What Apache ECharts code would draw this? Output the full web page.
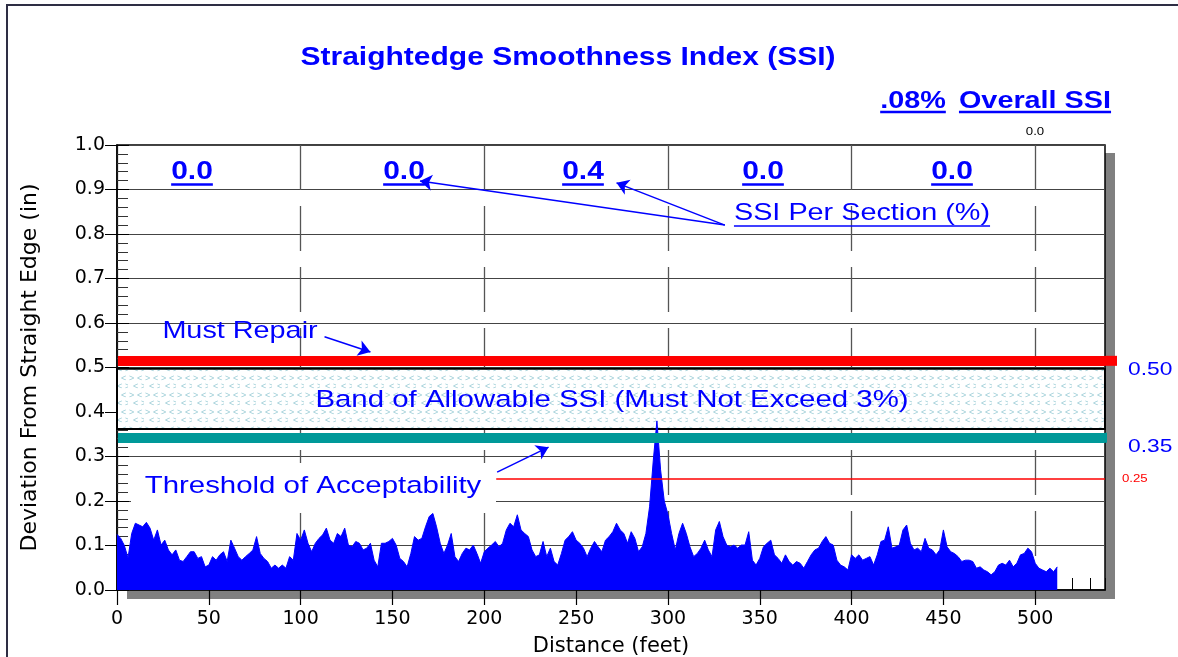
<!DOCTYPE html>
<html>
<head>
<meta charset="utf-8">
<script src="https://cdn.jsdelivr.net/npm/echarts@6/dist/echarts.min.js"></script>
<style>
html, body { margin: 0; padding: 0; background: #fff; }
#chart { width: 1178px; height: 657px; }
</style>
</head>
<body>
<div id="chart"></div>
<script>
// profile sampled every 2 ft, deviation in inches
var profileStepFt = 2;
var profileIn = [
  0.125,0.116,0.100,0.072,0.127,0.150,0.146,0.142,0.152,0.139,
  0.112,0.135,0.101,0.112,0.090,0.079,0.090,0.067,0.064,0.075,
  0.086,0.086,0.071,0.075,0.052,0.056,0.075,0.067,0.079,0.086,
  0.064,0.112,0.094,0.075,0.067,0.075,0.082,0.090,0.120,0.082,
  0.071,0.064,0.049,0.056,0.049,0.056,0.049,0.075,0.067,0.127,
  0.112,0.135,0.105,0.086,0.105,0.116,0.124,0.139,0.112,0.105,
  0.127,0.120,0.139,0.101,0.097,0.109,0.105,0.090,0.094,0.105,
  0.067,0.052,0.105,0.105,0.109,0.116,0.101,0.071,0.064,0.052,
  0.082,0.120,0.112,0.116,0.142,0.165,0.172,0.142,0.105,0.082,
  0.101,0.127,0.075,0.064,0.082,0.094,0.090,0.101,0.082,0.060,
  0.086,0.094,0.101,0.109,0.097,0.105,0.135,0.150,0.142,0.169,
  0.135,0.127,0.120,0.090,0.075,0.079,0.109,0.075,0.094,0.064,
  0.056,0.082,0.112,0.120,0.131,0.112,0.105,0.094,0.075,0.094,
  0.109,0.097,0.086,0.112,0.120,0.131,0.150,0.135,0.127,0.105,
  0.131,0.116,0.086,0.097,0.127,0.187,0.290,0.380,0.270,0.200,
  0.170,0.127,0.090,0.127,0.150,0.127,0.097,0.075,0.082,0.094,
  0.112,0.090,0.075,0.135,0.154,0.120,0.101,0.097,0.101,0.094,
  0.101,0.101,0.131,0.067,0.056,0.071,0.097,0.105,0.112,0.079,
  0.071,0.060,0.079,0.064,0.056,0.064,0.060,0.049,0.064,0.079,
  0.090,0.094,0.109,0.120,0.105,0.101,0.067,0.056,0.052,0.045,
  0.079,0.071,0.079,0.067,0.071,0.075,0.056,0.079,0.109,0.112,
  0.142,0.094,0.097,0.101,0.135,0.146,0.105,0.090,0.094,0.086,
  0.116,0.094,0.090,0.079,0.090,0.135,0.097,0.086,0.082,0.075,
  0.064,0.067,0.067,0.064,0.049,0.052,0.045,0.041,0.034,0.041,
  0.056,0.060,0.056,0.067,0.052,0.060,0.079,0.082,0.094,0.086,
  0.060,0.049,0.045,0.041,0.049,0.041,0.052
];
var xTicks = [0, 50, 100, 150, 200, 250, 300, 350, 400, 450, 500];
var xMax = 538;
var sectionSsi = ['0.0', '0.0', '0.4', '0.0', '0.0'];
var overallSsi = '.08%';
var overallSmall = '0.0';

// limit lines (inches) and their labels
var mustRepairIn = 0.515;
var bandLowIn = 0.362, bandHighIn = 0.497;
var acceptIn = 0.342;
var warnIn = 0.25;
var limitLabels = ['0.50', '0.35', '0.25'];

var FONT = 'Arial, "Liberation Sans", sans-serif';
var BLUE = '#0000ff';

var data = profileIn.map(function (v, i) { return [i * profileStepFt, v]; });

function chevrons() {
  var c = document.createElement('canvas');
  c.width = 16; c.height = 17;
  var g = c.getContext('2d');
  g.fillStyle = '#ffffff';
  g.fillRect(0, 0, 16, 17);
  g.fillStyle = '#9ccdd6';
  g.font = '9px ' + FONT;
  g.textBaseline = 'top';
  g.fillText('>', 1, 0);
  g.fillText('<', 9, 0);
  g.fillText('<', 5, 8);
  g.fillText('>', 13, 8);
  return c;
}

var mctx = document.createElement('canvas').getContext('2d');
function textW(s, font) { mctx.font = font; return mctx.measureText(s).width; }

var SX = 1.2;
var graphics = [];
function txt(x, y, s, size, o) {
  o = o || {};
  var font = (o.bold ? 'bold ' : '') + size + 'px ' + FONT;
  var align = o.align || 'center';
  graphics.push({
    type: 'text', x: x, y: y, scaleX: SX, z: 10, silent: true,
    style: { text: s, font: font, fill: o.color || BLUE, align: align, verticalAlign: 'middle' }
  });
  if (o.underline) {
    var w = textW(s, font) * SX;
    var x0 = align === 'center' ? x - w / 2 : (align === 'right' ? x - w : x);
    graphics.push({
      type: 'line', z: 10, silent: true,
      shape: { x1: x0, y1: y + o.underline, x2: x0 + w, y2: y + o.underline },
      style: { stroke: o.color || BLUE, lineWidth: o.ulw || 2.5 }
    });
  }
}

// frame, plot shadow, white box behind threshold text
graphics.push({ type: 'rect', z: -2, silent: true, shape: { x: 7, y: 5, width: 1190, height: 670 },
  style: { fill: 'none', stroke: '#2e2e44', lineWidth: 2 } });
graphics.push({ type: 'rect', z: -1, silent: true, shape: { x: 127, y: 153, width: 988, height: 446 },
  style: { fill: '#808080' } });
graphics.push({ type: 'rect', z: 1, silent: true, shape: { x: 131, y: 463, width: 365, height: 50 },
  style: { fill: '#ffffff' } });

txt(568, 58, 'Straightedge Smoothness Index (SSI)', 25, { bold: true });
txt(913, 101, overallSsi, 24, { bold: true, underline: 11 });
txt(1035, 101, 'Overall SSI', 24, { bold: true, underline: 11 });
txt(1035, 132, overallSmall, 11, { color: '#000' });
var sectionX = [192, 404, 583, 763, 952];
sectionSsi.forEach(function (s, i) { txt(sectionX[i], 172, s, 25, { bold: true, underline: 12.5 }); });
txt(862, 213, 'SSI Per Section (%)', 24, { underline: 13, ulw: 1.5 });
txt(240, 331, 'Must Repair', 24);
txt(612, 400, 'Band of Allowable SSI (Must Not Exceed 3%)', 24.5);
txt(313, 486, 'Threshold of Acceptability', 24.5);
txt(1128, 370, limitLabels[0], 19, { align: 'left' });
txt(1128, 447, limitLabels[1], 19, { align: 'left' });
txt(1122, 479, limitLabels[2], 11, { align: 'left', color: '#ff0000' });

function hline(y, x0, x1, color, width) {
  return [{ coord: [x0, y], symbol: 'none', lineStyle: { color: color, width: width, type: 'solid' } },
          { coord: [x1, y], symbol: 'none' }];
}
function arrow(a, b) {
  return [{ coord: a, symbol: 'none', lineStyle: { color: BLUE, width: 1.5, type: 'solid' } },
          { coord: b, symbol: 'arrow', symbolSize: 12 }];
}

var gridRect = { left: 117, top: 145, width: 988, height: 445, outerBoundsMode: 'none', containLabel: false };

var chart = echarts.init(document.getElementById('chart'));
chart.setOption({
  animation: false,
  backgroundColor: '#fff',
  grid: [
    Object.assign({ show: true, backgroundColor: '#fff', borderColor: '#000', borderWidth: 1.5 }, gridRect),
    Object.assign({ show: false }, gridRect)
  ],
  xAxis: [{
    type: 'value', min: 0, max: xMax, interval: 50,
    name: 'Distance (feet)', nameLocation: 'middle', nameGap: 46,
    nameTextStyle: { fontFamily: 'DejaVu Sans', fontSize: 21, color: '#000' },
    axisLine: { show: true, lineStyle: { color: '#000', width: 1.5 } },
    axisTick: { show: true, length: 15, customValues: xTicks, lineStyle: { color: '#000', width: 1.2 } },
    axisLabel: { customValues: xTicks, margin: 20,
      fontFamily: 'DejaVu Sans', fontSize: 19, color: '#000' },
    splitLine: { show: true, lineStyle: { color: ['#555', 'rgba(0,0,0,0)'], width: 1.3, type: [45, 16] } }
  }, {
    // inner minor ticks along the bottom edge
    gridIndex: 1, type: 'value', min: 0, max: xMax, interval: 50, position: 'bottom',
    axisLine: { show: false, onZero: false }, axisLabel: { show: false }, splitLine: { show: false },
    axisTick: { show: true, inside: true, length: 12, lineStyle: { color: '#000' } },
    minorTick: { show: true, splitNumber: 5, length: 12, lineStyle: { color: '#000' } }
  }],
  yAxis: [{
    type: 'value', min: 0, max: 1, interval: 0.1,
    name: 'Deviation From Straight Edge (in)', nameLocation: 'middle', nameGap: 76,
    nameTextStyle: { fontFamily: 'DejaVu Sans', fontSize: 22, color: '#000' },
    axisLine: { show: true, lineStyle: { color: '#000', width: 1.5 } },
    axisTick: { show: true, length: 12, lineStyle: { color: '#000' } },
    axisLabel: { margin: 12, fontFamily: 'DejaVu Sans', fontSize: 19, color: '#000',
      formatter: function (v) { return v.toFixed(1); } },
    splitLine: { show: true, lineStyle: { color: '#444', width: 1.2 } }
  }, {
    // inner minor ticks along the left edge
    gridIndex: 1, type: 'value', min: 0, max: 1, interval: 0.1, position: 'left',
    axisLine: { show: false, onZero: false }, axisLabel: { show: false }, splitLine: { show: false },
    axisTick: { show: true, inside: true, length: 12, lineStyle: { color: '#000' } },
    minorTick: { show: true, splitNumber: 5, length: 11, lineStyle: { color: '#333' } }
  }],
  graphic: { elements: graphics },
  series: [{
    name: 'levels', type: 'line', data: [], z: 1, clip: false, silent: true,
    markArea: {
      silent: true,
      itemStyle: { color: { image: chevrons(), repeat: 'repeat' }, borderColor: '#000', borderWidth: 2 },
      data: [[{ coord: [0, bandLowIn] }, { coord: [xMax, bandHighIn] }]]
    },
    markLine: {
      silent: true, label: { show: false }, symbol: 'none',
      emphasis: { disabled: true },
      data: [
        hline(mustRepairIn, 0.5, xMax, '#ff0000', 10),
        hline(acceptIn, 0.5, xMax, '#009999', 10),
        hline(warnIn, 206.5, xMax, '#ff0000', 1.5),
        arrow([331, 0.820], [165, 0.919]),
        arrow([331, 0.820], [272, 0.915]),
        arrow([113, 0.569], [138, 0.535]),
        arrow([207, 0.265], [235, 0.321])
      ]
    }
  }, {
    name: 'profile', type: 'line', data: data, z: 3, showSymbol: false, symbol: 'none',
    sampling: false,
    lineStyle: { color: BLUE, width: 1 },
    areaStyle: { color: BLUE, opacity: 1 }
  }]
});

// the must-repair bar and the band run a little past the plot's right edge
var pRed = chart.convertToPixel({ gridIndex: 0 }, [xMax, mustRepairIn]);
var pTeal = chart.convertToPixel({ gridIndex: 0 }, [xMax, acceptIn]);
graphics.push({ type: 'rect', z: 5, silent: true, shape: { x: pRed[0], y: pRed[1] - 5, width: 12, height: 10 },
  style: { fill: '#ff0000' } });
graphics.push({ type: 'rect', z: 5, silent: true, shape: { x: pTeal[0], y: pTeal[1] - 5, width: 2, height: 10 },
  style: { fill: '#009999' } });
chart.setOption({ graphic: { elements: graphics } }, { replaceMerge: ['graphic'] });
</script>
</body>
</html>
